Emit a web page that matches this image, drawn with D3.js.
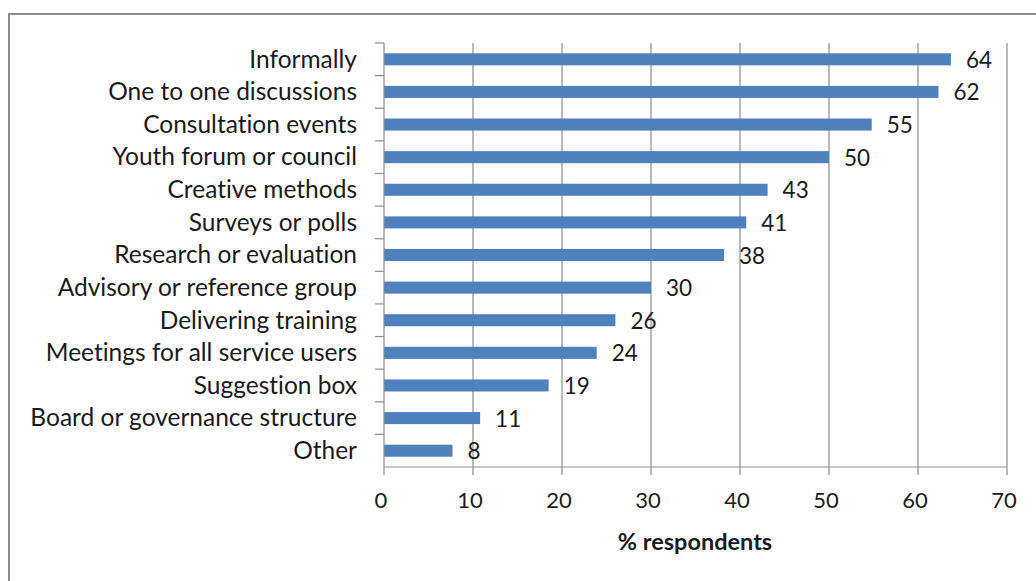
<!DOCTYPE html>
<html>
<head>
<meta charset="utf-8">
<script src="https://cdn.jsdelivr.net/npm/d3@7"></script>
<style>
  html, body { margin: 0; padding: 0; background: #fff; }
  svg { display: block; }
  text { font-family: Lato, "Open Sans", sans-serif; fill: #1a1a1a; font-variant-ligatures: none; }
</style>
</head>
<body>
<svg id="chart" width="1036" height="581"></svg>
<script>
const categories = [
  "Informally", "One to one discussions", "Consultation events", "Youth forum or council",
  "Creative methods", "Surveys or polls", "Research or evaluation", "Advisory or reference group",
  "Delivering training", "Meetings for all service users", "Suggestion box",
  "Board or governance structure", "Other"
];
const values = [63.7, 62.3, 54.8, 50, 43.1, 40.7, 38.2, 30, 26, 23.9, 18.5, 10.8, 7.7];
const valueLabels = ["64", "62", "55", "50", "43", "41", "38", "30", "26", "24", "19", "11", "8"];
const xTicks = [0, 10, 20, 30, 40, 50, 60, 70];
const xTitle = "% respondents";

(function () {
const svg = d3.select("#chart");
const W = 1036, H = 581;

svg.append("rect")
  .attr("x", 9).attr("y", 14)
  .attr("width", W + 20).attr("height", H + 20)
  .attr("fill", "#fff").attr("stroke", "#8c8c8c").attr("stroke-width", 2);

const pl = 384, pr = 1007, pt = 43, pb = 467;

const x = d3.scaleLinear().domain([0, 70]).range([pl, pr]);
const y = d3.scaleBand().domain(categories).range([pt, pb]).paddingInner(0.63).paddingOuter(0.315);
const yTicks = d3.scaleBand().domain(categories).range([pt, pb]);

svg.append("g").selectAll("line").data(xTicks.slice(1)).join("line")
  .attr("x1", d => x(d)).attr("x2", d => x(d))
  .attr("y1", pt).attr("y2", pb)
  .attr("stroke", "#8c8c8c").attr("stroke-width", 1.2);

svg.append("g").selectAll("rect").data(categories).join("rect")
  .attr("x", x(0))
  .attr("y", d => y(d))
  .attr("width", (d, i) => x(values[i]) - x(0))
  .attr("height", y.bandwidth())
  .attr("fill", "#4f81bd");

svg.append("g").selectAll("text").data(categories).join("text")
  .attr("x", (d, i) => x(values[i]) + 15)
  .attr("y", d => y(d) + y.bandwidth() / 2)
  .attr("dy", "0.38em")
  .attr("font-size", 22.5)
  .text((d, i) => valueLabels[i]);

const ya = svg.append("g");
ya.append("line").attr("x1", pl).attr("x2", pl).attr("y1", pt).attr("y2", pb)
  .attr("stroke", "#8c8c8c").attr("stroke-width", 1.2);
const boundaries = categories.map(c => yTicks(c));
ya.selectAll("line.tick").data(boundaries).join("line").attr("class", "tick")
  .attr("x1", pl - 9).attr("x2", pl)
  .attr("y1", d => d).attr("y2", d => d)
  .attr("stroke", "#8c8c8c").attr("stroke-width", 1.2);

svg.append("g").selectAll("text").data(categories).join("text")
  .attr("x", 357)
  .attr("y", d => yTicks(d) + yTicks.bandwidth() / 2)
  .attr("dy", "0.34em")
  .attr("text-anchor", "end")
  .attr("font-size", 24.5)
  .text(d => d);

const xa = svg.append("g");
xa.append("line").attr("x1", pl).attr("x2", pr).attr("y1", pb).attr("y2", pb)
  .attr("stroke", "#8c8c8c").attr("stroke-width", 1.2);
xa.selectAll("line.tick").data(xTicks).join("line").attr("class", "tick")
  .attr("x1", d => x(d)).attr("x2", d => x(d))
  .attr("y1", pb).attr("y2", pb + 8)
  .attr("stroke", "#8c8c8c").attr("stroke-width", 1.2);
xa.selectAll("text").data(xTicks).join("text")
  .attr("x", d => x(d) - 3)
  .attr("y", 500)
  .attr("dy", "0.36em")
  .attr("text-anchor", "middle")
  .attr("font-size", 22)
  .text(d => d);

svg.append("text")
  .attr("x", 695).attr("y", 542)
  .attr("dy", "0.36em")
  .attr("text-anchor", "middle")
  .attr("font-size", 23.5)
  .attr("font-weight", "bold")
  .text(xTitle);
})();
</script>
</body>
</html>
